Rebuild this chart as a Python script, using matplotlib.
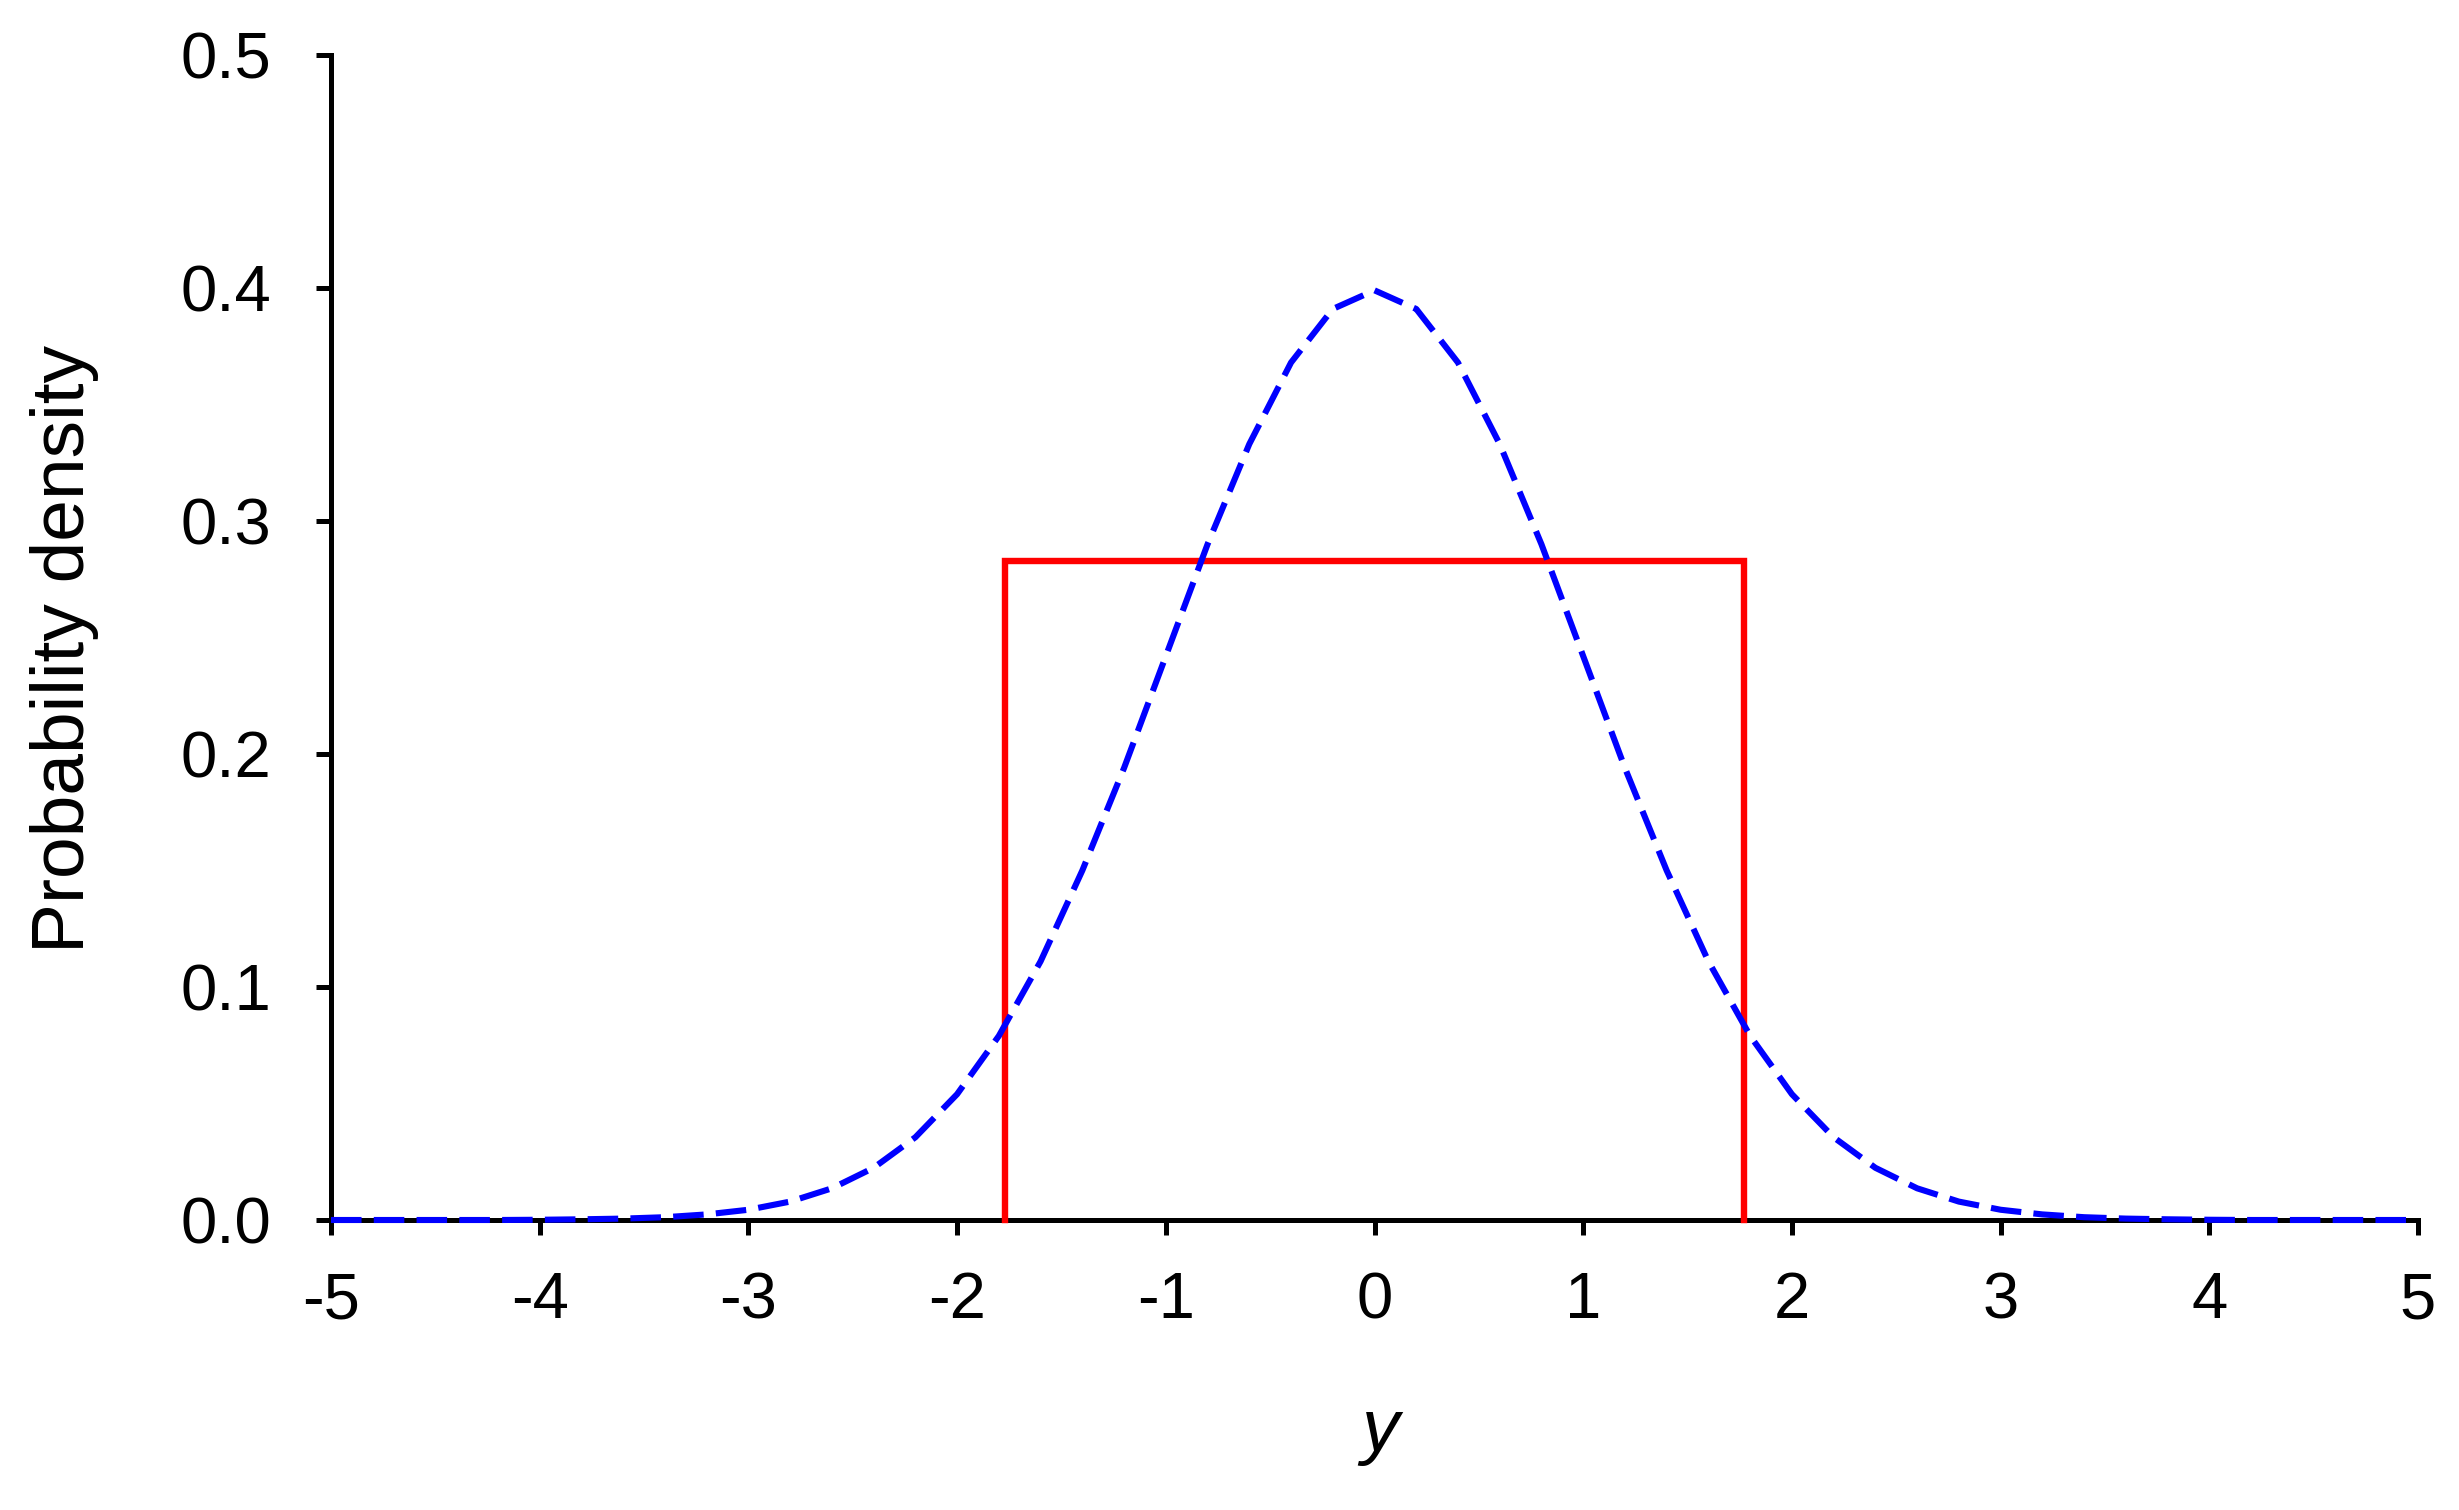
import matplotlib
matplotlib.use("Agg")
import matplotlib.pyplot as plt

plt.rcParams['font.family'] = ['Liberation Sans', 'DejaVu Sans']

# normal density (0.2 steps)
y_vals = [-5.0, -4.8, -4.6, -4.4, -4.2, -4.0, -3.8, -3.6, -3.4, -3.2,
          -3.0, -2.8, -2.6, -2.4, -2.2, -2.0, -1.8, -1.6, -1.4, -1.2,
          -1.0, -0.8, -0.6, -0.4, -0.2, 0.0, 0.2, 0.4, 0.6, 0.8,
          1.0, 1.2, 1.4, 1.6, 1.8, 2.0, 2.2, 2.4, 2.6, 2.8,
          3.0, 3.2, 3.4, 3.6, 3.8, 4.0, 4.2, 4.4, 4.6, 4.8, 5.0]
normal_pdf = [0.0, 0.0, 0.0, 0.0, 0.0, 0.0001, 0.0003, 0.0006, 0.0012, 0.0024,
              0.0044, 0.0079, 0.0136, 0.0224, 0.0355, 0.054, 0.079, 0.111, 0.150, 0.194,
              0.242, 0.290, 0.333, 0.368, 0.391, 0.399, 0.391, 0.368, 0.333, 0.290,
              0.242, 0.194, 0.150, 0.111, 0.079, 0.054, 0.0355, 0.0224, 0.0136, 0.0079,
              0.0044, 0.0024, 0.0012, 0.0006, 0.0003, 0.0001, 0.0, 0.0, 0.0, 0.0, 0.0]

# uniform density outline (red box)
uniform_x = [-1.77, -1.77, 1.77, 1.77]
uniform_pdf = [0.0, 0.283, 0.283, 0.0]

x_ticks = [-5, -4, -3, -2, -1, 0, 1, 2, 3, 4, 5]
y_ticks = [0.0, 0.1, 0.2, 0.3, 0.4, 0.5]

W, H = 2459, 1510
fig = plt.figure(figsize=(W / 100, H / 100), dpi=100)
left, right, top, bottom = 331, 2418, 55, 1220
ax = fig.add_axes([left / W, (H - bottom) / H, (right - left) / W, (bottom - top) / H])

ax.plot(uniform_x, uniform_pdf, color='#ff0000', lw=4.6, solid_joinstyle='miter',
        zorder=3, clip_on=False)
ax.plot(y_vals, normal_pdf, color='#0000ff', lw=4.4, dashes=(5.0, 2.0),
        zorder=4, clip_on=False)

ax.set_xlim(-5, 5)
ax.set_ylim(0, 0.5)
ax.set_xticks(x_ticks)
ax.set_xticklabels([str(t) for t in x_ticks])
ax.set_yticks(y_ticks)
ax.set_yticklabels([f"{t:.1f}" for t in y_ticks])

for s in ['top', 'right']:
    ax.spines[s].set_visible(False)
for s in ['left', 'bottom']:
    ax.spines[s].set_linewidth(3.6)
    ax.spines[s].set_color('black')

ax.tick_params(axis='both', direction='out', length=10.8, width=3.6, labelsize=47, colors='black')
ax.tick_params(axis='x', pad=26)
ax.tick_params(axis='y', pad=32)

ax.set_ylabel('Probability density', fontsize=54)
ax.yaxis.set_label_coords(-0.111, 0.49)
ax.set_xlabel('y', fontsize=54, style='italic')
ax.xaxis.label.set_va('baseline')
ax.xaxis.set_label_coords(0.5026, -0.198)

fig.savefig('out.png', dpi=100)
